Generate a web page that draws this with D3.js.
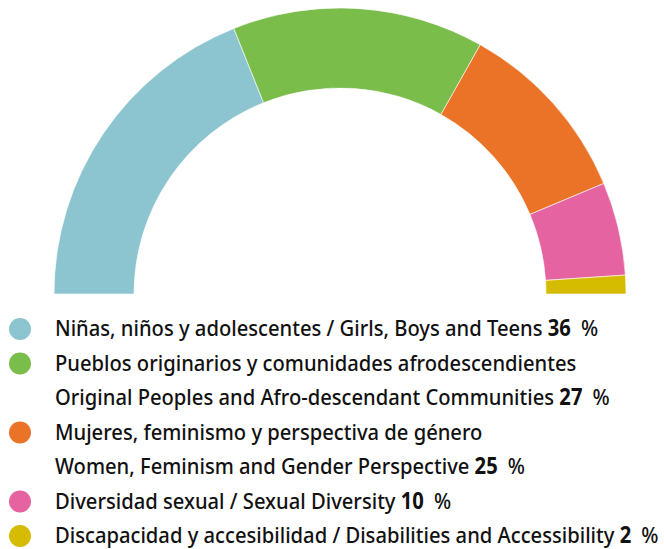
<!DOCTYPE html>
<html>
<head>
<meta charset="utf-8">
<script src="https://cdn.jsdelivr.net/npm/d3@7"></script>
<style>
  html, body { margin: 0; padding: 0; background: #fff; }
  svg { display: block; }
  text { font-family: "Noto Sans", "DejaVu Sans", sans-serif; fill: #111; font-weight: 500; }
</style>
</head>
<body>
<svg id="chart" width="664" height="549"></svg>
<script>
// Data
const categories = [
  "Niñas, niños y adolescentes / Girls, Boys and Teens",
  "Pueblos originarios y comunidades afrodescendientes",
  "Mujeres, feminismo y perspectiva de género",
  "Diversidad sexual / Sexual Diversity",
  "Discapacidad y accesibilidad / Disabilities and Accessibility"
];
const secondLines = [
  null,
  "Original Peoples and Afro-descendant Communities",
  "Women, Feminism and Gender Perspective",
  null,
  null
];
// arc sizes as drawn in the source
const values = [36, 27, 20, 10, 2];
// percentages printed in the legend
const labelValues = [36, 27, 25, 10, 2];
const colors = ["#8cc4cf", "#7abd4a", "#eb7328", "#e463a0", "#d6bc00"];

const svg = d3.select("#chart");
const cx = 340, cy = 294, rOuter = 286, rInner = 206;

const pie = d3.pie().sort(null).startAngle(-Math.PI / 2).endAngle(Math.PI / 2);
const arc = d3.arc().innerRadius(rInner).outerRadius(rOuter);

svg.append("g")
  .attr("transform", `translate(${cx},${cy})`)
  .selectAll("path")
  .data(pie(values))
  .join("path")
  .attr("d", arc)
  .attr("fill", (d, i) => colors[i])
  .attr("stroke", "#fff")
  .attr("stroke-width", 0.6);

// Legend
const rowY = d3.scaleLinear().domain([0, 6]).range([329, 536]);
const fontSize = 22.5;
const textX = 55;
const legend = svg.append("g");
const texts = [];
let row = 0;
function addText(y) {
  const t = legend.append("text")
    .attr("x", 0).attr("y", y + 7.5)
    .attr("font-size", fontSize);
  texts.push(t);
  return t;
}
categories.forEach((c, i) => {
  legend.append("circle")
    .attr("cx", 20).attr("cy", rowY(row)).attr("r", 11)
    .attr("fill", colors[i]);
  let t;
  if (secondLines[i]) {
    addText(rowY(row)).text(c);
    row++;
    t = addText(rowY(row)).text(secondLines[i] + " ");
  } else {
    t = addText(rowY(row)).text(c + " ");
  }
  t.append("tspan").attr("font-weight", "bold").text(labelValues[i]);
  t.append("tspan").text("\u2002%");
  row++;
});
// condense text horizontally so the longest line spans the same width as in the source
const longest = d3.max(texts, t => t.node().getComputedTextLength());
const sx = 604 / longest;
texts.forEach(t => t.attr("transform", `translate(${textX},0) scale(${sx},1)`));
</script>
</body>
</html>
